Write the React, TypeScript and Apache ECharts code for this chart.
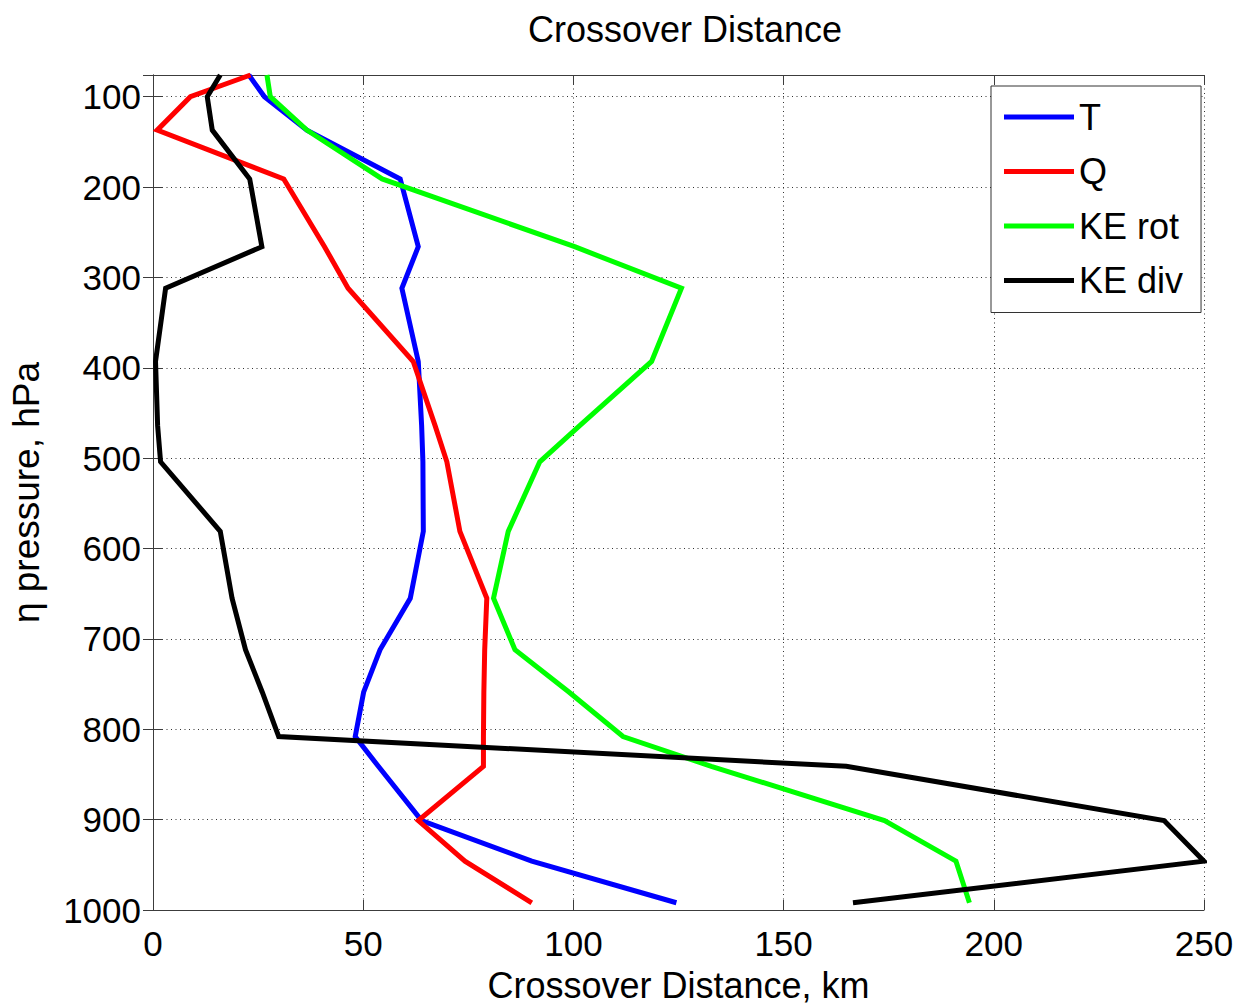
import React, { useEffect, useRef } from "react";
import * as echarts from "echarts";

// Eta-pressure levels (hPa) shared by every profile, top of the domain first
const pressureLevels = [76, 100, 137, 191, 266, 312, 393, 464, 504, 581, 655, 712, 759, 808, 841, 901, 946, 992];

// Crossover distance (km) at each level
const tDistance = [22.8, 26.5, 36.6, 58.8, 63.1, 59.2, 63.1, 63.9, 64.2, 64.3, 61.2, 54.0, 50.1, 48.1, 53.6, 63.9, 90.1, 124.5];
const qDistance = [23.2, 8.9, 1.0, 31.1, 40.8, 46.4, 61.9, 67.1, 69.9, 73.0, 79.4, 78.9, 78.7, 78.6, 78.6, 63.1, 74.2, 90.1];
const keRotDistance = [27.1, 27.9, 36.6, 54.5, 100.3, 125.7, 118.6, 101.5, 92.0, 84.5, 81.0, 86.1, 99.0, 111.8, 132.8, 174.0, 191.0, 194.2];
const keDivDistance = [16.0, 12.9, 14.1, 23.0, 25.9, 3.0, 0.6, 1.1, 1.8, 16.0, 18.8, 22.0, 26.0, 29.9, 164.9, 240.5, 250.0, 166.5];

const seriesNames = ["T", "Q", "KE rot", "KE div"];
const seriesColors = ["#0000ff", "#ff0000", "#00ff00", "#000000"];
const seriesValues = [tDistance, qDistance, keRotDistance, keDivDistance];

const chartTitle = "Crossover Distance";
const xAxisTitle = "Crossover Distance, km";
const yAxisTitle = "η pressure, hPa";

export default function App() {
  const ref = useRef<HTMLDivElement>(null);

  useEffect(() => {
    const chart = echarts.init(ref.current!, null, { renderer: "svg" });
    const font = "'Liberation Sans', Arial, Helvetica, sans-serif";
    const axisColor = "#3c3c3c";
    const toPairs = (vals: number[]) => vals.map((v, i) => [v, pressureLevels[i]]);

    const frameAxis = {
      axisLine: { show: true, lineStyle: { color: axisColor, width: 1 } },
      axisTick: { show: true, inside: true, length: 10, lineStyle: { color: axisColor, width: 1 } },
    };

    const yBase = {
      type: "value",
      inverse: true,
      min: 76,
      max: 1000,
      splitNumber: 9,
      minInterval: 100,
      maxInterval: 100,
    };

    chart.setOption({
      animation: false,
      backgroundColor: "#ffffff",
      title: {
        text: chartTitle,
        left: 680,
        top: 6,
        textAlign: "center",
        textStyle: { fontFamily: font, fontSize: 36, fontWeight: "normal", color: "#000" },
      },
      grid: { left: 152, right: 40, top: 75, bottom: 98, containLabel: false },
      legend: {
        data: seriesNames,
        orient: "vertical",
        left: 991,
        top: 86,
        padding: [13, 18, 14, 13],
        itemWidth: 70,
        itemHeight: 5,
        itemGap: 18.5,
        icon: "rect",
        backgroundColor: "#ffffff",
        borderColor: "#333333",
        borderWidth: 1,
        borderRadius: 0,
        textStyle: { fontFamily: font, fontSize: 36, color: "#000" },
      },
      xAxis: [
        {
          type: "value",
          position: "bottom",
          min: 0,
          max: 250,
          interval: 50,
          name: xAxisTitle,
          nameLocation: "middle",
          nameGap: 57,
          nameTextStyle: { fontFamily: font, fontSize: 36, color: "#000" },
          ...frameAxis,
          axisLabel: { fontFamily: font, fontSize: 35, color: "#000", margin: 16 },
          splitLine: { show: true, lineStyle: { color: "#333", type: [1, 3.5], width: 1 } },
        },
        {
          type: "value",
          position: "top",
          min: 0,
          max: 250,
          interval: 50,
          ...frameAxis,
          axisLabel: { show: false },
          splitLine: { show: false },
        },
      ],
      yAxis: [
        {
          ...yBase,
          position: "left",
          name: yAxisTitle,
          nameLocation: "middle",
          nameRotate: 90,
          nameGap: 108,
          nameTextStyle: { fontFamily: font, fontSize: 37, color: "#000" },
          ...frameAxis,
          axisLabel: {
            fontFamily: font,
            fontSize: 35,
            color: "#000",
            margin: 12,
            showMinLabel: false,
            formatter: (v: number) => (v % 100 === 0 ? String(v) : ""),
          },
          splitLine: { show: true, lineStyle: { color: "#333", type: [1, 3.5], width: 1 } },
        },
        {
          ...yBase,
          position: "right",
          ...frameAxis,
          axisLabel: { show: false },
          splitLine: { show: false },
        },
      ],
      series: seriesNames.map((name, i) => ({
        type: "line",
        name,
        xAxisIndex: 0,
        yAxisIndex: 0,
        data: toPairs(seriesValues[i]),
        showSymbol: false,
        symbol: "none",
        clip: true,
        lineStyle: { color: seriesColors[i], width: 5, join: "miter" },
        itemStyle: { color: seriesColors[i] },
      })),
    });

    return () => chart.dispose();
  }, []);

  return (
    <div
      ref={ref}
      style={{ position: "fixed", left: 0, top: 0, width: 1244, height: 1008, background: "#fff" }}
    />
  );
}
